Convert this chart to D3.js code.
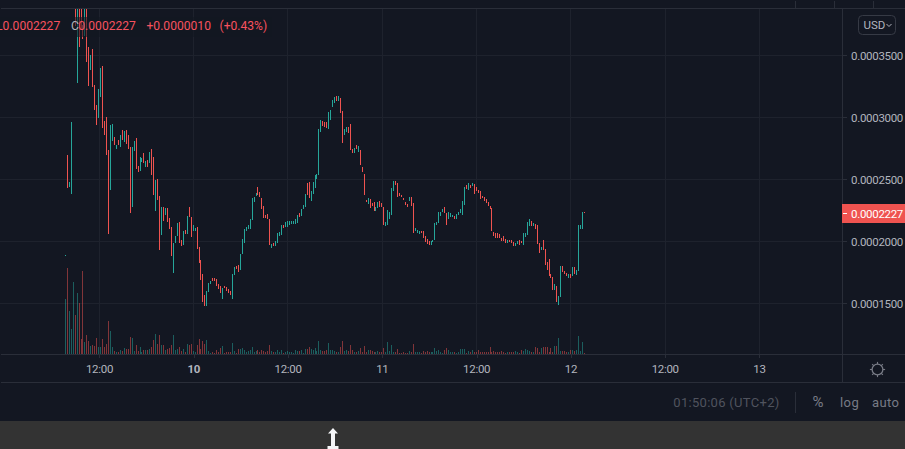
<!DOCTYPE html>
<html><head><meta charset="utf-8">
<script src="https://cdn.jsdelivr.net/npm/d3@7/dist/d3.min.js"></script>
<style>html,body{margin:0;padding:0;background:#131722;overflow:hidden}svg{display:block;font-family:Roboto,sans-serif}</style>
</head><body><svg id="c" width="905" height="449"></svg>
<script>
// Prices are in units of 0.0000001
const PRICE_UNIT = 1e-7;
const opens = [1881,2696,2438,2381,3900,3946,3279,3946,3946,3744,3656,3946,3569,3381,3551,3260,3099,2994,3164,3414,2970,3005,2736,
2414,2809,2841,2744,2817,2760,2897,2801,2897,2857,2760,2276,2728,2833,2607,2567,2639,2712,2599,2655,2631,2744,2680,2244,2502,2365,2051,2276,2212,2268,2188,2115,1744,1986,2043,2155,2010,1970,2091,2059,2276,2196,2083,2083,2115,1954,1849,1736,1567,1478,1591,1656,1704,1704,1696,1656,1639,1535,1639,1631,1615,1599,1535,1728,1801,1809,1768,1897,1986,2083,2099,2099,2172,2317,2365,
2438,2397,2349,2285,2212,2220,2180,1946,1986,1962,1986,2043,2051,2131,2115,2115,2131,2139,2139,2139,2147,2228,2204,2260,2276,2470,2478,2325,2381,2430,2502,2535,2881,2970,2962,2962,2906,2978,3083,3115,3172,3131,3155,3051,2857,2881,2922,2946,2744,2712,2776,2720,2736,2599,2543,2333,2301,2341,2309,2317,2244,2268,2325,2309,2276,2123,2131,2180,2212,2406,2486,2470,
2390,2373,2349,2317,2301,2325,2357,2309,2083,2067,2059,2083,2083,2043,2019,2002,1970,1994,2010,2131,2148,2204,2236,2277,2228,2180,2196,2196,2204,2180,2212,2228,2212,2293,2454,2414,2454,2446,2462,2438,2414,2406,2365,2357,2341,2317,2285,2269,2075,2067,2067,2059,2027,2043,2019,1986,2010,2010,1994,1962,1978,2010,2002,1970,2035,2051,2123,2164,2123,2140,2131,1986,1930,2010,1938,1833,1857,1736,1712,1607,1640,1486,1551,1801,1760,1744,1704,1736,1720,1793,1728,1761,2099,2099,2236];
const closes = [1889,2430,2478,2962,3960,3736,3946,3569,3704,3631,3946,3446,3252,3502,3244,3059,2938,3228,3398,2914,2857,2696,2059,
2938,2946,2776,2776,2776,2857,2817,2889,2784,2744,2228,2760,2809,2583,2559,2680,2672,2631,2647,2599,2720,2534,2373,2494,2333,1930,2276,2164,2268,2155,2099,1881,1986,2043,2147,1986,1962,2083,2059,2204,2196,2034,2131,2107,1938,1825,1688,1510,1478,1599,1664,1680,1680,1680,1639,1615,1583,1623,1623,1599,1583,1567,1736,1793,1776,1752,1897,2018,2099,2115,2131,2180,2349,2357,2389,
2373,2357,2260,2188,2188,2180,1970,1978,1962,2002,2067,2075,2131,2107,2156,2164,2164,2164,2164,2180,2212,2196,2260,2293,2381,2373,2349,2406,2478,2535,2543,2906,2978,2930,2922,2914,3043,3059,3139,3164,3131,3172,3035,2793,2906,2922,2873,2736,2712,2752,2744,2768,2615,2559,2373,2317,2349,2268,2285,2244,2276,2317,2276,2276,2131,2156,2252,2236,2430,2486,2454,2357,
2365,2357,2333,2293,2277,2357,2285,2067,2107,2091,2083,2067,2027,1994,1978,1970,2002,2010,2148,2156,2236,2236,2260,2228,2131,2236,2228,2212,2180,2220,2236,2260,2325,2438,2422,2470,2430,2470,2381,2406,2390,2341,2349,2325,2309,2285,2260,2083,2043,2027,2027,2027,2002,2002,1986,2010,1994,1986,1962,1986,2002,1970,1986,2067,2067,2156,2180,2123,2148,2099,1978,1906,1954,1930,1809,1769,1720,1704,1607,1656,1511,1559,1801,1752,1736,1720,1736,1704,1793,1736,1769,2131,2131,2236,2227];
const volumes = [165,259,130,76,217,118,184,154,46,250,37,58,40,25,28,25,49,22,22,46,22,31,100,
70,22,10,7,7,13,10,19,16,16,52,49,10,28,10,22,7,13,13,13,16,22,43,61,31,58,28,28,13,16,19,28,58,13,16,22,10,16,7,31,28,31,10,7,28,46,16,40,31,43,10,4,7,4,13,7,19,25,4,7,7,7,34,10,4,16,16,19,13,7,10,13,22,7,10,13,7,
13,10,7,10,28,10,7,7,13,7,13,4,7,10,7,7,4,13,10,10,13,4,16,16,22,16,13,19,10,40,13,10,10,13,34,
12,12,9,6,6,21,39,9,12,9,27,12,6,6,9,18,6,24,6,12,12,9,6,6,9,6,6,18,6,36,9,27,6,6,15,3,3,6,3,3,9,6,30,6,6,6,3,9,6,9,6,6,6,18,9,12,6,3,12,18,12,6,6,6,3,6,15,15,15,3,9,6,12,6,6,12,6,6,6,6,6,21,6,9,6,6,6,9,6,3,6,6,6,6,9,6,3,12,9,15,12,9,6,6,21,18,6,18,21,21,21,6,18,6,24,24,48,9,9,9,6,6,12,12,9,12,54,9,36,3];
const priceTicks = [0.00035,0.0003,0.00025,0.0002,0.00015];
const timeLabels = ["12:00","10","12:00","11","12:00","12","12:00","13"];
const lastPrice = 0.0002227;
const legendValue = "0.0002227", legendChange = "+0.0000010", legendPct = "(+0.43%)";

const UP="#26a69a", DOWN="#ef5350", GRID="#1e222d", LINE="#2a2e39", AXIS="#b2b5be";
const svg=d3.select("#c");
const n=opens.length;
const x=d3.scaleLinear().domain([0,n-1]).range([65.3,584.4]);
const y=d3.scaleLinear().domain([0.00015,0.00035]).range([303.3,55.3]);
const yVol=d3.scaleLinear().domain([0,270]).range([354,264]);
const xT=d3.scalePoint().domain(d3.range(timeLabels.length)).range([99.4,759.4]);
const px=v=>Math.floor(v)+0.5;

svg.append("rect").attr("width",905).attr("height",449).attr("fill","#131722");
svg.append("rect").attr("y",421).attr("width",905).attr("height",28).attr("fill","#333333");

// grid
const grid=svg.append("g").attr("stroke",GRID).attr("shape-rendering","crispEdges");
grid.selectAll(".h").data(priceTicks).join("line").attr("x1",0).attr("x2",842).attr("y1",d=>px(y(d))).attr("y2",d=>px(y(d)));
grid.selectAll(".v").data(xT.domain()).join("line").attr("x1",d=>px(xT(d))).attr("x2",d=>px(xT(d))).attr("y1",9).attr("y2",354);

// clip
svg.append("clipPath").attr("id","pane").append("rect").attr("x",0).attr("y",9).attr("width",842).attr("height",345);
const pane=svg.append("g").attr("clip-path","url(#pane)").attr("shape-rendering","crispEdges");
const idx=d3.range(n);
const up=i=>closes[i]>=opens[i];
pane.append("g").selectAll("rect").data(idx).join("rect")
 .attr("x",i=>Math.floor(x(i))).attr("width",1)
 .attr("y",i=>yVol(volumes[i])).attr("height",i=>yVol(0)-yVol(volumes[i]))
 .attr("fill",i=>up(i)?UP:DOWN).attr("opacity",0.5);
pane.append("g").selectAll("rect").data(idx).join("rect")
 .attr("x",i=>Math.floor(x(i))).attr("width",1)
 .attr("y",i=>y(Math.max(opens[i],closes[i])*PRICE_UNIT))
 .attr("height",i=>Math.max(1,Math.abs(y(opens[i]*PRICE_UNIT)-y(closes[i]*PRICE_UNIT))))
 .attr("fill",i=>up(i)?UP:DOWN);

// legend
svg.append("rect").attr("x",0).attr("y",17).attr("width",272).attr("height",20).attr("fill","#131722").attr("opacity",0.6);
const leg=svg.append("text").attr("y",30).attr("font-size",12.1).attr("fill","#f7525f");
leg.append("tspan").attr("x",-3.9).text("L"+legendValue);
leg.append("tspan").attr("x",71).attr("fill",AXIS).text("C");
leg.append("tspan").attr("x",78.3).text(legendValue);
leg.append("tspan").attr("x",146.5).text(legendChange);
leg.append("tspan").attr("x",219.5).text(legendPct);

// frame
const fr=svg.append("g").attr("stroke",LINE).attr("shape-rendering","crispEdges");
[[0,8,905,8],[0,354,905,354],[0,382,905,382],[842,8,842,382],[795,0,795,8],[834,0,834,8],[873,0,873,8],[795,391,795,412]]
 .forEach(l=>fr.append("line").attr("x1",l[0]+.5).attr("x2",l[2]+.5).attr("y1",l[1]+.5).attr("y2",l[3]+.5));

// axes
const gy=svg.append("g").attr("transform","translate(842.5,0)")
 .call(d3.axisRight(y).tickValues(priceTicks).tickSize(4.5).tickPadding(4).tickFormat(d=>d.toFixed(7)));
const gx=svg.append("g").attr("transform","translate(0,354.5)")
 .call(d3.axisBottom(xT).tickSize(3.5).tickPadding(6.5).tickFormat(i=>timeLabels[i]));
[gy,gx].forEach(g=>{g.select(".domain").remove();
 g.selectAll("line").attr("stroke",LINE).attr("shape-rendering","crispEdges");
 g.selectAll("text").attr("fill",AXIS).attr("font-size",11.5).attr("letter-spacing","-.3").attr("font-family","Roboto,sans-serif");});
gy.selectAll("text").attr("dy",".4em");
gx.selectAll("text").attr("dx","-.4");
gx.selectAll("text").filter(i=>timeLabels[i]==="10").attr("font-weight","bold");

// last price label
svg.append("rect").attr("x",842).attr("y",204).attr("width",63).attr("height",19).attr("fill",DOWN);
svg.append("line").attr("x1",843).attr("x2",847).attr("y1",y(lastPrice)).attr("y2",y(lastPrice)).attr("stroke","#fff").attr("shape-rendering","crispEdges");
svg.append("text").attr("x",851).attr("y",213.5).attr("dy",".38em").attr("fill","#fff").attr("font-size",11.5).attr("letter-spacing","-.3").text(lastPrice.toFixed(7));

// USD button
svg.append("rect").attr("x",858.5).attr("y",15.5).attr("width",37).attr("height",19).attr("rx",4).attr("fill","none").attr("stroke","#363a45");
svg.append("text").attr("x",863.5).attr("y",29.3).attr("fill",AXIS).attr("font-size",11.5).text("USD");
svg.append("path").attr("d","M886.5 24 l2.5 2.5 l2.5 -2.5").attr("fill","none").attr("stroke",AXIS).attr("stroke-width",1);

// gear
const gear=svg.append("g").attr("transform","translate(877.5,369.5)").attr("stroke","#787b86").attr("fill","none");
gear.append("circle").attr("r",5.4).attr("stroke-width",1.3);
d3.range(8).forEach(k=>{const a=k*Math.PI/4;gear.append("line").attr("x1",5.4*Math.cos(a)).attr("y1",5.4*Math.sin(a)).attr("x2",7.6*Math.cos(a)).attr("y2",7.6*Math.sin(a)).attr("stroke-width",1.1);});

// status bar
svg.append("text").attr("x",673.3).attr("y",406.5).attr("fill","#50535e").attr("font-size",13).attr("letter-spacing",".3").text("01:50:06 (UTC+2)");
svg.append("text").attr("x",812.5).attr("y",407).attr("fill","#787b86").attr("font-size",15).text("%");
svg.append("text").attr("x",840).attr("y",407).attr("fill","#787b86").attr("font-size",13).attr("letter-spacing",".4").text("log");
svg.append("text").attr("x",872).attr("y",407).attr("fill","#787b86").attr("font-size",13).attr("letter-spacing",".4").text("auto");

// cursor
svg.append("path").attr("d","M333 428 L338 433.5 L335 433.5 L335 446 L338.5 446 L338.5 449 L327.5 449 L327.5 446 L331 446 L331 433.5 L328 433.5 Z").attr("fill","#f5f6f8");
</script></body></html>
